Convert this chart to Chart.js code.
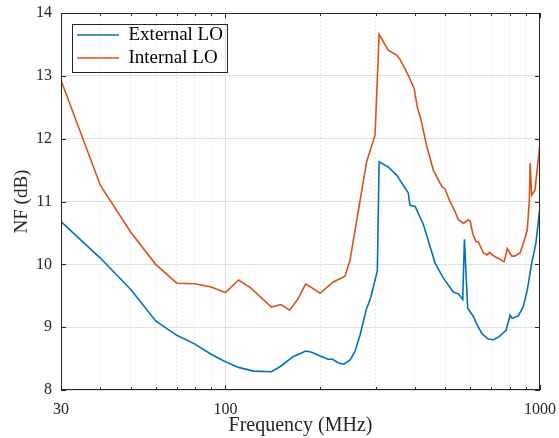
<!DOCTYPE html>
<html>
<head>
<meta charset="utf-8">
<script src="https://cdn.jsdelivr.net/npm/chart.js@4.4.0/dist/chart.umd.min.js"></script>
<style>
    html, body { margin: 0; padding: 0; background: #fff; }
    #wrap { width: 559px; height: 438px; }
</style>
</head>
<body>
<div id="wrap"><canvas id="nfChart" width="559" height="438"></canvas></div>
<script>
// frequency (MHz) and noise figure (dB)
var freqExt = [30, 40, 50, 60, 70, 80, 90, 100, 110, 123, 140, 149, 164, 180, 188, 200, 212, 219, 229, 238,
    249, 258, 268, 280, 290, 299, 304, 308, 329, 350, 381, 386, 401, 426, 464, 493, 530, 550, 568, 575,
    589, 614, 628, 653, 684, 711, 742, 780, 803, 816, 853, 885, 911, 941, 970, 1000];
var nfExt = [10.68, 10.10, 9.60, 9.10, 8.87, 8.73, 8.57, 8.45, 8.36, 8.30, 8.29, 8.37, 8.53, 8.62, 8.60, 8.54, 8.49, 8.49, 8.43, 8.41,
    8.48, 8.61, 8.88, 9.27, 9.48, 9.75, 9.90, 11.63, 11.55, 11.42, 11.14, 10.94, 10.92, 10.63, 10.02, 9.78, 9.56, 9.53, 9.44, 10.40,
    9.30, 9.17, 9.06, 8.90, 8.81, 8.80, 8.85, 8.95, 9.19, 9.14, 9.18, 9.33, 9.59, 10.02, 10.33, 10.92];

var freqInt = [30, 40, 50, 60, 70, 80, 90, 100, 110, 120, 140, 150, 160, 170, 180, 200, 220, 240, 249, 268,
    281, 299, 308, 329, 350, 359, 381, 398, 407, 418, 437, 458, 487, 499, 515, 537, 550, 571, 592, 600,
    611, 626, 636, 661, 678, 692, 705, 720, 746, 769, 787, 813, 830, 864, 885, 911, 925, 930, 941, 964, 1000];
var nfInt = [12.93, 11.26, 10.51, 10.00, 9.70, 9.69, 9.64, 9.55, 9.75, 9.63, 9.32, 9.36, 9.27, 9.45, 9.69, 9.54, 9.72, 9.81, 10.07, 11.02,
    11.63, 12.06, 13.66, 13.41, 13.33, 13.26, 13.01, 12.80, 12.51, 12.31, 11.87, 11.50, 11.24, 11.20, 11.02, 10.84, 10.71, 10.65, 10.71, 10.69,
    10.49, 10.36, 10.36, 10.18, 10.15, 10.19, 10.15, 10.12, 10.08, 10.04, 10.25, 10.13, 10.13, 10.18, 10.33, 10.55, 11.02, 11.61, 11.10, 11.18, 11.93];

var seriesNames = ["External LO", "Internal LO"];
var seriesColors = ["#0072BD", "#D95319"];
var yTicks = [8, 9, 10, 11, 12, 13, 14];
var xTickLabels = [30, 100, 1000];
var xMinorTicks = [40, 50, 60, 70, 80, 90, 200, 300, 400, 500, 600, 700, 800, 900];

function toPoints(xs, ys) {
    var pts = [];
    for (var i = 0; i < xs.length; i++) {
        pts.push({x: xs[i], y: ys[i]});
    }
    return pts;
}

var serif = "'Liberation Serif', 'DejaVu Serif', serif";
var legendFont = 19;

// box round the legend and little inward ticks, as in the matlab figure
var framePlugin = {
    id: "frame",
    beforeDraw: function (chart) {
        // nudge the legend away from the axes corner
        var lg = chart.legend;
        lg.left = chart.chartArea.left + 12;
        lg.top = chart.chartArea.top + 8.5;
    },
    afterDraw: function (chart) {
        var ctx = chart.ctx;
        var area = chart.chartArea;
        var xs = chart.scales.x;
        var ys = chart.scales.y;
        ctx.save();
        ctx.strokeStyle = "#262626";
        ctx.lineWidth = 1;
        ctx.beginPath();
        var allX = xTickLabels.concat(xMinorTicks);
        for (var i = 0; i < allX.length; i++) {
            var px = Math.round(xs.getPixelForValue(allX[i])) + 0.5;
            var len = xTickLabels.indexOf(allX[i]) >= 0 ? 5 : 3;
            ctx.moveTo(px, area.bottom);
            ctx.lineTo(px, area.bottom - len);
            ctx.moveTo(px, area.top);
            ctx.lineTo(px, area.top + len);
        }
        for (var j = 0; j < yTicks.length; j++) {
            var py = Math.round(ys.getPixelForValue(yTicks[j])) + 0.5;
            ctx.moveTo(area.left, py);
            ctx.lineTo(area.left + 5, py);
            ctx.moveTo(area.right, py);
            ctx.lineTo(area.right - 5, py);
        }
        ctx.stroke();
        ctx.strokeRect(area.left + 0.5, area.top + 0.5, area.right - area.left - 1, area.bottom - area.top - 1);

        // legend box
        var lg = chart.legend;
        var pad = lg.options.labels.padding;
        var L = lg.left + pad;
        var T = lg.top + pad;
        var w = 0;
        for (var k = 0; k < lg.legendHitBoxes.length; k++) {
            w = Math.max(w, lg.legendHitBoxes[k].width);
        }
        var n = lg.legendHitBoxes.length;
        var h = n * legendFont + (n - 1) * pad;
        var bx = Math.round(L - 5) + 0.5;
        var by = Math.round(T - 1.5) + 0.5;
        ctx.strokeRect(bx, by, Math.round(L + w + 4) - bx + 0.5, Math.round(T + h + 4.5) - by + 0.5);
        ctx.restore();
    }
};

var ctx = document.getElementById("nfChart").getContext("2d");
var nfChart = new Chart(ctx, {
    type: "line",
    data: {
        datasets: [
            {
                label: seriesNames[0],
                data: toPoints(freqExt, nfExt),
                borderColor: seriesColors[0],
                backgroundColor: seriesColors[0],
                borderWidth: 1.6,
                pointRadius: 0,
                tension: 0,
                fill: false
            },
            {
                label: seriesNames[1],
                data: toPoints(freqInt, nfInt),
                borderColor: seriesColors[1],
                backgroundColor: seriesColors[1],
                borderWidth: 1.6,
                pointRadius: 0,
                tension: 0,
                fill: false
            }
        ]
    },
    options: {
        responsive: false,
        animation: false,
        layout: {padding: {left: 0, right: 19, top: 13, bottom: 0}},
        plugins: {
            tooltip: {enabled: false},
            legend: {
                position: "chartArea",
                align: "start",
                labels: {
                    usePointStyle: true,
                    pointStyle: "line",
                    pointStyleWidth: 42,
                    padding: 4,
                    color: "#000",
                    font: {family: serif, size: legendFont}
                }
            }
        },
        scales: {
            x: {
                type: "logarithmic",
                min: 30,
                max: 1000,
                afterBuildTicks: function (scale) {
                    scale.ticks = xTickLabels.map(function (v) { return {value: v}; });
                },
                afterFit: function (scale) {
                    // labels may hang over the edge, keep the plot box fixed
                    scale.height = 48;
                    scale.paddingLeft = 0;
                    scale.paddingRight = 0;
                },
                ticks: {
                    autoSkip: false,
                    maxRotation: 0,
                    padding: 10,
                    color: "#262626",
                    font: {family: serif, size: 16},
                    callback: function (v) { return String(v); }
                },
                grid: {
                    color: function (c) {
                        return c.tick && c.tick.value === 100 ? "#dfdfdf" : "rgba(0,0,0,0)";
                    },
                    lineWidth: 1,
                    drawTicks: false
                },
                border: {display: false},
                title: {
                    display: true,
                    text: "Frequency (MHz)",
                    color: "#262626",
                    font: {family: serif, size: 20},
                    padding: {top: 2, bottom: 0}
                }
            },
            xMinor: {
                type: "logarithmic",
                position: "bottom",
                min: 30,
                max: 1000,
                afterBuildTicks: function (scale) {
                    scale.ticks = xMinorTicks.map(function (v) { return {value: v}; });
                },
                afterFit: function (scale) {
                    scale.height = 0;
                    scale.paddingLeft = 0;
                    scale.paddingRight = 0;
                },
                ticks: {display: false},
                grid: {
                    color: "#d6d6d6",
                    lineWidth: 1,
                    drawTicks: false
                },
                border: {display: false, dash: [1, 3]}
            },
            y: {
                type: "linear",
                min: 8,
                max: 14,
                afterBuildTicks: function (scale) {
                    scale.ticks = yTicks.map(function (v) { return {value: v}; });
                },
                afterFit: function (scale) {
                    scale.width = 61;
                    scale.paddingTop = 0;
                    scale.paddingBottom = 0;
                },
                ticks: {
                    padding: 9,
                    color: "#262626",
                    font: {family: serif, size: 16}
                },
                grid: {
                    color: "#dfdfdf",
                    lineWidth: 1,
                    drawTicks: false
                },
                border: {display: false},
                title: {
                    display: true,
                    text: "NF (dB)",
                    color: "#262626",
                    font: {family: serif, size: 19},
                    padding: {top: 10.5, bottom: 0}
                }
            }
        }
    },
    plugins: [framePlugin]
});
</script>
</body>
</html>
